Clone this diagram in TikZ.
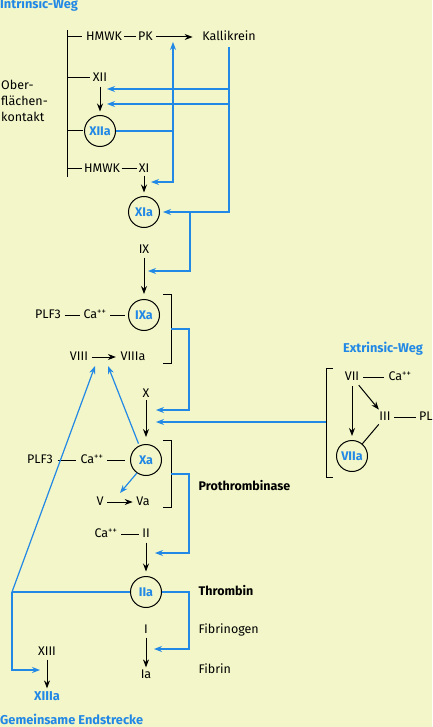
\documentclass[tikz,border=0pt]{standalone}
\usepackage{fontspec}
\setmainfont{Fira Sans}
\usetikzlibrary{arrows.meta,calc,positioning}

\definecolor{bgyellow}{RGB}{242,246,200}
\definecolor{fblue}{RGB}{34,136,230}

\begin{document}
\begin{tikzpicture}[x=1pt,y=-1pt,
  txt/.style={inner sep=1.5pt, text height=1.3ex, text depth=0pt, font=\fontsize{12.5}{14}\selectfont},
  btxt/.style={txt, font=\fontsize{12.5}{14}\selectfont\bfseries},
  ttl/.style={btxt, text=fblue, font=\fontsize{12.8}{14}\selectfont\bfseries},
  factor/.style={circle, draw=black, line width=1pt, minimum size=31pt, inner sep=0pt, text=fblue, font=\fontsize{12.5}{14}\selectfont\bfseries},
  blk/.style={line width=1pt},
  arr/.style={line width=1pt, -{Stealth[length=8pt,width=6pt]}},
  bline/.style={fblue, line width=1.2pt},
  barr/.style={fblue, line width=1.2pt, -{Stealth[length=8pt,width=6pt]}},
]
  \fill[bgyellow] (0,0) rectangle (432,727);
  \useasboundingbox (0,0) rectangle (432,727);

  % titles
  \node[ttl, anchor=west, inner sep=0pt] (intrinsic) at (0,5) {Intrinsic-Weg};
  \node[ttl] (extrinsic) at (383,349) {Extrinsic-Weg};
  \node[ttl, anchor=west, inner sep=0pt] (common) at (0,721) {Gemeinsame Endstrecke};

  % intrinsic path
  \coordinate (contact_top) at (67,30);
  \coordinate (contact_bottom) at (67,177);
  \draw[blk] (contact_top) -- (contact_bottom);

  \node[anchor=west, align=left, inner sep=0pt, font=\fontsize{12.5}{16}\selectfont] (surface) at (1,101) {Ober-\\flächen-\\kontakt};

  \node[txt] (HMWK1) at (104,37) {HMWK};
  \node[txt] (PK) at (145.5,37) {PK};
  \node[txt] (kallikrein) at (229,37) {Kallikrein};
  \node[txt] (XII) at (100,78) {XII};
  \node[factor] (XIIa) at (100,131) {XIIa};
  \node[txt] (HMWK2) at (102,169) {HMWK};
  \node[txt] (XI) at (144,169) {XI};
  \node[factor] (XIa) at (144,212) {XIa};

  \draw[blk, shorten >=2pt] (contact_top |- HMWK1) -- (HMWK1);
  \draw[blk, shorten >=1pt] (contact_top |- XII) -- (XII);
  \draw[blk, shorten >=1.5pt] (contact_top |- XIIa) -- (XIIa);
  \draw[blk] (contact_top |- HMWK2) -- (HMWK2);

  \draw[blk, shorten <=0.5pt, shorten >=0.5pt] (HMWK1) -- (PK);
  \draw[arr, shorten <=1.5pt, shorten >=8pt] (PK) -- (kallikrein);
  \draw[arr, shorten <=3.5pt, shorten >=3.5pt] (XII) -- (XIIa);
  \draw[blk] (HMWK2) -- (XI);
  \draw[arr, shorten <=1.5pt, shorten >=3.5pt] (XI) -- (XIa);

  \coordinate (XII_arrow1) at (100,89);
  \coordinate (XII_arrow2) at (100,104);
  \coordinate (XIIa_knee) at (173,131);
  \coordinate (XI_arrow) at (144,182);
  \coordinate (XIa_knee) at (190,212);

  \draw[barr, shorten <=5pt, shorten >=3pt] (kallikrein.south) |- (XIa.east);
  \draw[barr, shorten >=7pt] (kallikrein |- XII_arrow1) -- (XII_arrow1);
  \draw[barr, shorten >=7pt] (kallikrein |- XII_arrow2) -- (XII_arrow2);
  \draw[bline] (XIIa) -- (XIIa_knee);
  \draw[barr, shorten >=5pt] (XIIa_knee) -- (XIIa_knee |- PK);
  \draw[barr, shorten >=7pt] (XIIa_knee) |- (XI_arrow);

  % tenase
  \node[txt] (IX) at (144,250) {IX};
  \node[factor] (IXa) at (144,315) {IXa};
  \draw[arr, shorten <=2.5pt, shorten >=5pt] (IX) -- (IXa);
  \coordinate (IX_arrow) at (144,271);
  \draw[barr, shorten >=4pt] (XIa_knee) |- (IX_arrow);

  \node[txt] (PLF3a) at (48,315) {PLF3};
  \node[txt] (Ca1) at (95,315) {Ca\textsuperscript{++}};
  \draw[blk, shorten <=2pt, shorten >=2pt] (PLF3a) -- (Ca1);
  \draw[blk, shorten <=2pt, shorten >=3pt] (Ca1) -- (IXa);

  \node[txt] (VIII) at (79,357) {VIII};
  \node[txt] (VIIIa) at (133,357) {VIIIa};
  \draw[arr, shorten <=2pt, shorten >=3pt] (VIII) -- (VIIIa);

  \coordinate (tenase_top) at (171,294);
  \coordinate (tenase_bottom) at (171,363);
  \coordinate (tenase_mid) at (171,329);
  \draw[blk] ($(tenase_top)+(-8,0)$) -- (tenase_top) -- (tenase_bottom) -- ++(-8,0);
  \coordinate (X_arrow1) at (146,410);
  \draw[barr, shorten >=10pt] (tenase_mid) -- ++(18,0) |- (X_arrow1);

  % extrinsic path
  \coordinate (ext_top) at (326,368);
  \coordinate (ext_bottom) at (326,477);
  \coordinate (ext_mid) at (326,422);
  \draw[blk] ($(ext_top)+(7,0)$) -- (ext_top) -- (ext_bottom) -- ++(7,0);
  \coordinate (X_arrow2) at (146,422);
  \draw[barr, shorten >=10pt] (ext_mid) -- (X_arrow2);

  \node[txt] (VII) at (352,377) {VII};
  \node[txt] (Ca2) at (400,377) {Ca\textsuperscript{++}};
  \node[txt] (III) at (385,417) {III};
  \node[txt, anchor=west] (PL) at (417.5,417) {PL};
  \node[factor] (VIIa) at (352,456) {VIIa};
  \draw[blk, shorten <=2.5pt, shorten >=2.5pt] (VII) -- (Ca2);
  \draw[blk, shorten <=2pt, shorten >=2pt] (III) -- (PL);
  \draw[arr, shorten <=4pt, shorten >=4pt] (VII) -- (VIIa);
  \draw[arr, shorten <=4pt, shorten >=3pt] (VII) -- (III);
  \draw[blk, shorten <=3pt] (III) -- (VIIa);

  % prothrombinase
  \node[txt] (X) at (146,394) {X};
  \node[factor] (Xa) at (146,460) {Xa};
  \draw[arr, shorten <=1pt, shorten >=7pt] (X) -- (Xa);

  \node[txt] (PLF3b) at (40,460) {PLF3};
  \node[txt] (Ca3) at (92,460) {Ca\textsuperscript{++}};
  \draw[blk, shorten <=3pt, shorten >=3pt] (PLF3b) -- (Ca3);
  \draw[blk, shorten <=2pt, shorten >=5pt] (Ca3) -- (Xa);

  \node[txt] (V) at (100,502) {V};
  \node[txt] (Va) at (143,502) {Va};
  \draw[arr, shorten <=2pt, shorten >=2pt] (V) -- (Va);

  \coordinate (VIII_arrow1) at (95,366);
  \coordinate (VIII_arrow2) at (108,366);
  \coordinate (V_arrow) at (120,493);
  \draw[barr, shorten <=2pt] (Xa.115) -- (VIII_arrow2);
  \draw[barr] (Xa.235) -- (V_arrow);

  \coordinate (prothr_top) at (171,440);
  \coordinate (prothr_bottom) at (171,507);
  \coordinate (prothr_mid) at (171,474);
  \draw[blk] ($(prothr_top)+(-8,0)$) -- (prothr_top) -- (prothr_bottom) -- ++(-8,0);
  \node[btxt, anchor=west] (prothrombinase) at (197,487) {Prothrombinase};
  \coordinate (II_arrow) at (146,553);
  \draw[barr, shorten >=9pt] (prothr_mid) -- ++(18,0) |- (II_arrow);

  % thrombin
  \node[txt] (Ca4) at (106,534) {Ca\textsuperscript{++}};
  \node[txt] (II) at (146,534) {II};
  \draw[blk, shorten <=2pt, shorten >=2pt] (Ca4) -- (II);
  \node[factor] (IIa) at (146,592) {IIa};
  \draw[arr, shorten <=3.5pt, shorten >=4.5pt] (II) -- (IIa);

  \node[btxt, anchor=west] (thrombin) at (197,592) {Thrombin};
  \node[txt] (I) at (146,630) {I};
  \node[txt] (Ia) at (146,675) {Ia};
  \draw[arr, shorten <=2.5pt, shorten >=2.5pt] (I) -- (Ia);
  \node[txt, anchor=west] (fibrinogen) at (197,630) {Fibrinogen};
  \node[txt, anchor=west] (fibrin) at (197,670) {Fibrin};
  \coordinate (I_arrow) at (146,649);
  \draw[barr, shorten >=8pt] (IIa.east) -- ++(27,0) |- (I_arrow);

  % common end
  \coordinate (common_knee) at (12,592);
  \coordinate (XIII_arrow) at (47,670);
  \draw[bline] (IIa) -- (common_knee);
  \draw[barr, shorten >=7pt] (common_knee) |- (XIII_arrow);
  \draw[barr] (common_knee) -- (VIII_arrow1);

  \node[txt] (XIII) at (47,652) {XIII};
  \node[ttl] (XIIIa) at (47,697) {XIIIa};
  \draw[arr, shorten <=2.5pt, shorten >=3.5pt] (XIII) -- (XIIIa);
\end{tikzpicture}
\end{document}
